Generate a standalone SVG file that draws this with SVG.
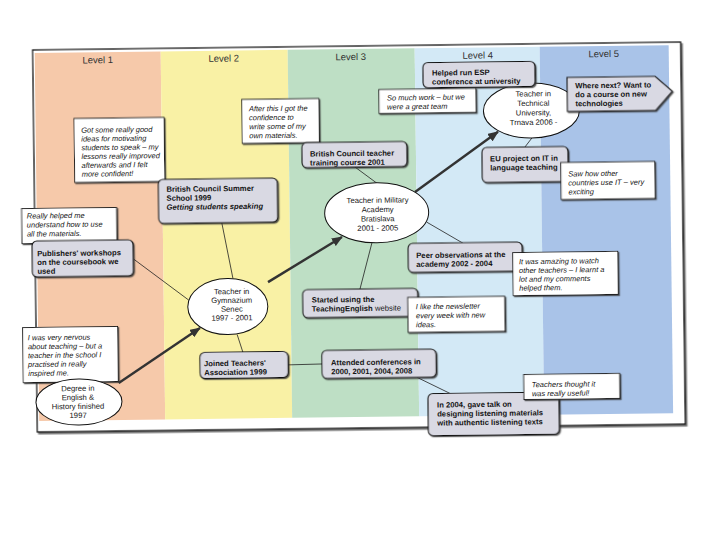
<svg xmlns="http://www.w3.org/2000/svg" width="720" height="540" viewBox="0 0 720 540">
<defs>
<filter id="sh" x="-10%" y="-10%" width="130%" height="140%"><feDropShadow dx="1.2" dy="1.2" stdDeviation="0.4" flood-color="#333" flood-opacity="0.8"/></filter>
<filter id="fsh" x="-5%" y="-5%" width="110%" height="110%"><feDropShadow dx="1.5" dy="1.8" stdDeviation="0.6" flood-color="#444" flood-opacity="0.8"/></filter>
<marker id="ah" markerUnits="userSpaceOnUse" markerWidth="11" markerHeight="9" refX="10" refY="4.5" orient="auto"><path d="M0,0 L11,4.5 L0,9 z" fill="#333"/></marker>
</defs>
<style>
text{font-family:"Liberation Sans",Arial,sans-serif;font-size:7.7px;fill:#151515}
.b{font-weight:bold}
.i{font-style:italic;font-size:7.5px}
.c{text-anchor:middle}
.lvl{font-size:9.5px;fill:#333;text-anchor:middle}
.box{fill:#d9d9e3;stroke:#111;stroke-width:1.1;filter:url(#sh)}
.note{fill:#fff;stroke:#111;stroke-width:0.9;filter:url(#sh)}
.ell{fill:#fff;stroke:#111;stroke-width:1}
.con{stroke:#222;stroke-width:0.8;fill:none}
.arr{stroke:#333;stroke-width:2.4;fill:none;marker-end:url(#ah)}
</style>
<rect width="720" height="540" fill="#fff"/>
<g transform="rotate(-0.7 360 240)">
<g id="frame">
<rect x="35" y="46" width="648" height="382" fill="#fff" stroke="#111" stroke-width="1.3" filter="url(#fsh)"/>
<rect x="37" y="49" width="126" height="368" fill="#f6c9aa"/>
<rect x="163" y="49" width="127" height="368" fill="#f9f1a5"/>
<rect x="290" y="49" width="127" height="368" fill="#bedfc5"/>
<rect x="417" y="49" width="125" height="368" fill="#d3e9f6"/>
<rect x="542" y="49" width="129" height="368" fill="#a9c3e8"/>
<text class="lvl" x="100" y="60">Level 1</text>
<text class="lvl" x="226" y="60">Level 2</text>
<text class="lvl" x="353" y="60">Level 3</text>
<text class="lvl" x="480" y="60">Level 4</text>
<text class="lvl" x="606" y="60">Level 5</text>
</g>
<g id="connectors">
<line class="con" x1="222" y1="221" x2="232.5" y2="277"/>
<line class="con" x1="133" y1="256" x2="188" y2="298"/>
<line class="con" x1="236" y1="333" x2="241.6" y2="351"/>
<line class="con" x1="286" y1="364" x2="320.5" y2="363.5"/>
<line class="con" x1="355.9" y1="167" x2="377.7" y2="183.5"/>
<line class="con" x1="371.9" y1="243" x2="359.4" y2="289"/>
<line class="con" x1="427" y1="223" x2="463" y2="244.5"/>
<line class="con" x1="415.3" y1="378" x2="448.1" y2="394.5"/>
<line class="con" x1="533.2" y1="140" x2="526.1" y2="149"/>
<line class="arr" x1="117" y1="380" x2="198.9" y2="326"/>
<line class="arr" x1="267.5" y1="281" x2="342" y2="236.8"/>
<line class="arr" x1="415.6" y1="192.7" x2="499.3" y2="133.5"/>
</g>
<g id="note-confident">
<rect class="note" x="75.5" y="115" width="90" height="64"/>
<text class="i" x="82.5" y="129.3">Got some really good</text>
<text class="i" x="82.5" y="138.1">ideas for motivating</text>
<text class="i" x="82.5" y="146.9">students to speak – my</text>
<text class="i" x="82.5" y="155.7">lessons really improved</text>
<text class="i" x="82.5" y="164.5">afterwards and I felt</text>
<text class="i" x="82.5" y="173.3">more confident!</text>
</g>
<g id="note-materials">
<rect class="note" x="243.5" y="98" width="77" height="44"/>
<text class="i" x="250.5" y="110">After this I got the</text>
<text class="i" x="250.5" y="119">confidence to</text>
<text class="i" x="250.5" y="128">write some of my</text>
<text class="i" x="250.5" y="137">own materials.</text>
</g>
<g id="note-helped">
<rect class="note" x="22" y="204.5" width="95" height="35"/>
<text class="i" x="27" y="214.5">Really helped me</text>
<text class="i" x="27" y="223.5">understand how to use</text>
<text class="i" x="27" y="232.5">all the materials.</text>
</g>
<g id="note-nervous">
<rect class="note" x="21.6" y="323.5" width="95" height="55"/>
<text class="i" x="26.6" y="336.3">I was very nervous</text>
<text class="i" x="26.6" y="345.2">about teaching – but a</text>
<text class="i" x="26.6" y="354.1">teacher in the school I</text>
<text class="i" x="26.6" y="363">practised in really</text>
<text class="i" x="26.6" y="371.9">inspired me.</text>
</g>
<g id="node-summer">
<rect class="box" x="159" y="177" width="119" height="44" rx="5"/>
<text class="b" x="167" y="189.5">British Council Summer</text>
<text class="b" x="167" y="198.5">School 1999</text>
<text class="b" x="167" y="207.5" font-style="italic">Getting students speaking</text>
</g>
<g id="node-publishers">
<rect class="box" x="32" y="237" width="101" height="36" rx="5"/>
<text class="b" x="37" y="252.3">Publishers' workshops</text>
<text class="b" x="37" y="261.1">on the coursebook we</text>
<text class="b" x="37" y="269.9">used</text>
</g>
<g id="node-joined">
<rect class="box" x="198.5" y="350.5" width="88" height="26" rx="5"/>
<text class="b" x="202.5" y="364.3">Joined Teachers'</text>
<text class="b" x="202.5" y="373.3">Association 1999</text>
</g>
<g id="node-bctraining">
<rect class="box" x="303" y="142" width="105" height="25" rx="5"/>
<text class="b" x="311" y="156">British Council teacher</text>
<text class="b" x="311" y="165">training course 2001</text>
</g>
<g id="node-started">
<rect class="box" x="302" y="289" width="115" height="28" rx="5"/>
<text class="b" x="311" y="302">Started using  the</text>
<text x="311" y="311"><tspan class="b">TeachingEnglish</tspan> website</text>
</g>
<g id="note-newsletter">
<rect class="note" x="407" y="298" width="97" height="35"/>
<text class="i" x="415" y="310">I like the newsletter</text>
<text class="i" x="415" y="319">every week with new</text>
<text class="i" x="415" y="328">ideas.</text>
</g>
<g id="node-attended">
<rect class="box" x="320.5" y="350" width="114" height="28" rx="5"/>
<text class="b" x="329.5" y="365">Attended conferences in</text>
<text class="b" x="329.5" y="374">2000, 2001, 2004, 2008</text>
</g>
<g id="node-peer">
<rect class="box" x="408" y="244" width="114" height="29" rx="5"/>
<text class="b" x="416" y="258.8">Peer observations at the</text>
<text class="b" x="416" y="267.6">academy 2002 - 2004</text>
</g>
<g id="note-amazing">
<rect class="note" x="512.6" y="254.5" width="105" height="43"/>
<text class="i" x="518.6" y="266.2">It was amazing to watch</text>
<text class="i" x="518.6" y="275">other teachers – I learnt a</text>
<text class="i" x="518.6" y="283.8">lot and my comments</text>
<text class="i" x="518.6" y="292.6">helped them.</text>
</g>
<g id="node-talk">
<rect class="box" x="426" y="394.5" width="131" height="42" rx="5"/>
<text class="b" x="435" y="408.5">In 2004, gave talk on</text>
<text class="b" x="435" y="417.5">designing listening materials</text>
<text class="b" x="435" y="426.5">with authentic listening texts</text>
</g>
<g id="note-useful">
<rect class="note" x="522" y="376.6" width="96" height="25"/>
<text class="i" x="530" y="389.3">Teachers thought it</text>
<text class="i" x="530" y="398.3">was really useful!</text>
</g>
<g id="node-technical">
<ellipse class="ell" cx="533" cy="112.6" rx="48" ry="27.5"/>
<text class="c" x="535" y="98.5">Teacher in</text>
<text class="c" x="535" y="108">Technical</text>
<text class="c" x="535" y="117.5">University,</text>
<text class="c" x="535" y="127">Trnava 2006 -</text>
</g>
<g id="node-esp">
<rect class="box" x="425" y="63.5" width="112" height="25" rx="5"/>
<text class="b" x="434" y="76.5">Helped run ESP</text>
<text class="b" x="434" y="85.5">conference at university</text>
</g>
<g id="note-team">
<rect class="note" x="380.7" y="89.8" width="97" height="24"/>
<text class="i" x="388.7" y="100.8">So much work – but we</text>
<text class="i" x="388.7" y="109.8">were a great team</text>
</g>
<g id="node-eu">
<rect class="box" x="483" y="149" width="86" height="35" rx="5"/>
<text class="b" x="491" y="163">EU project on IT in</text>
<text class="b" x="491" y="172">language teaching</text>
</g>
<g id="note-countries">
<rect class="note" x="561.7" y="165" width="94" height="37"/>
<text class="i" x="569" y="179">Saw how other</text>
<text class="i" x="569" y="188">countries use IT – very</text>
<text class="i" x="569" y="197">exciting</text>
</g>
<g id="node-degree">
<ellipse class="ell" cx="77" cy="398.5" rx="43" ry="23"/>
<text class="c" x="76" y="387.5">Degree in</text>
<text class="c" x="76" y="396.5">English &amp;</text>
<text class="c" x="76" y="405.5">History finished</text>
<text class="c" x="76" y="414.5">1997</text>
</g>
<g id="node-gymnazium">
<ellipse class="ell" cx="227" cy="305" rx="40" ry="28"/>
<text class="c" x="231" y="292.5">Teacher in</text>
<text class="c" x="231" y="301.3">Gymnazium</text>
<text class="c" x="231" y="310.1">Senec</text>
<text class="c" x="231" y="318.9">1997 - 2001</text>
</g>
<g id="node-military">
<ellipse class="ell" cx="377" cy="213" rx="52" ry="30"/>
<text class="c" x="378" y="203">Teacher in Military</text>
<text class="c" x="378" y="212.3">Academy</text>
<text class="c" x="378" y="221.6">Bratislava</text>
<text class="c" x="378" y="230.9">2001 - 2005</text>
</g>
<g id="node-next">
<polygon class="box" points="569,80 657,80 674,95 657,114 569,114"/>
<text class="b" x="577" y="91">Where next? Want to</text>
<text class="b" x="577" y="100">do a course on new</text>
<text class="b" x="577" y="109">technologies</text>
</g>
</g>
</svg>
